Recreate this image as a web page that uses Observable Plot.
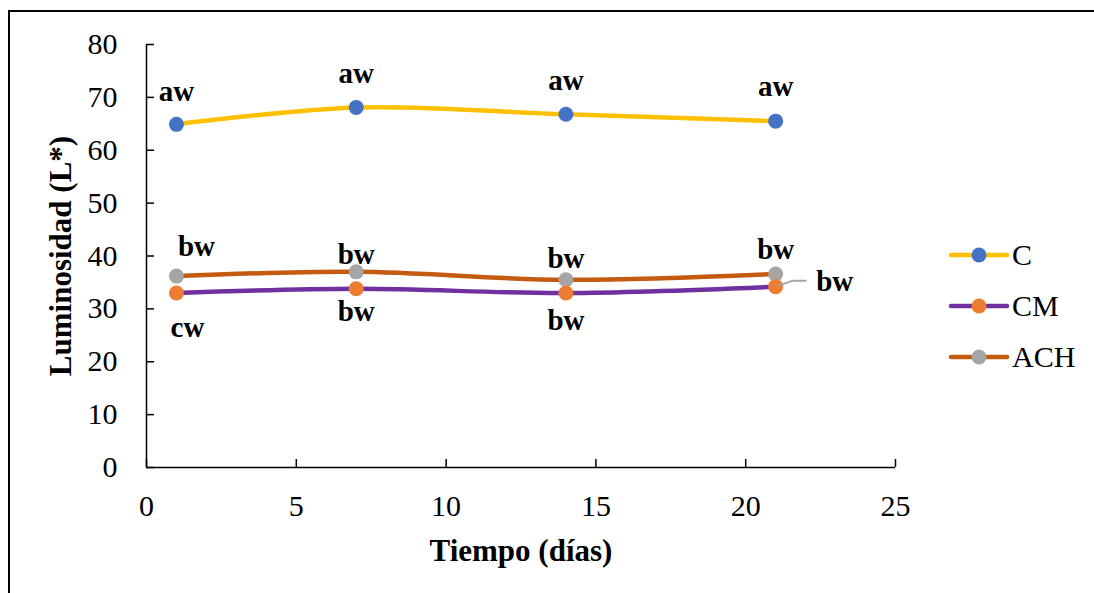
<!DOCTYPE html>
<html><head><meta charset="utf-8">
<script src="https://cdn.jsdelivr.net/npm/d3@7"></script>
<script src="https://cdn.jsdelivr.net/npm/@observablehq/plot@0.6"></script>
<style>
body{margin:0;background:#fff;}
#wrap{position:relative;width:1094px;height:593px;overflow:hidden;font-family:'Liberation Serif','Times New Roman',serif;background:#fff;}
#wrap svg, #wrap svg text{font-family:'Liberation Serif','Times New Roman',serif !important;}
#border{position:absolute;left:8px;top:10px;width:1200px;height:700px;border-top:2px solid #000;border-left:2px solid #000;}
#chart{position:absolute;left:0;top:0;}
#legend{position:absolute;left:940px;top:225px;}
</style></head><body>
<div id="wrap"><div id="border"></div><div id="chart"></div><div id="legend"></div></div>
<script>
// ---- data ----
const days = [1, 7, 14, 21];
const seriesNames = ["C", "CM", "ACH"];
const valuesC = [64.9, 68.1, 66.8, 65.5];
const valuesCM = [33.0, 33.8, 33.0, 34.2];
const valuesACH = [36.2, 37.0, 35.5, 36.6];
const labelsC = ["aw", "aw", "aw", "aw"];
const labelsCM = ["cw", "bw", "bw", "bw"];
const labelsACH = ["bw", "bw", "bw", "bw"];
const xTicks = [0, 5, 10, 15, 20, 25];
const yTicks = [0, 10, 20, 30, 40, 50, 60, 70, 80];
const xTitle = "Tiempo (días)";
const yTitle = "Luminosidad (L*)";

// ---- styles / layout ----
const lineColor = {C: "#FFC000", CM: "#7030A0", ACH: "#C55A11"};
const markerColor = {C: "#4472C4", CM: "#ED7D31", ACH: "#A5A5A5"};
const nudge = {
  C: [[0, -33], [0, -34], [0, -34], [0, -34]],
  ACH: [[20, -29], [0, -17], [0, -21], [0, -24]],
  CM: [[11, 35], [0, 23], [0, 28], [59, -5]]
};
const font = "'Liberation Serif', 'Times New Roman', serif";

const valuesBy = {C: valuesC, CM: valuesCM, ACH: valuesACH};
const labelsBy = {C: labelsC, CM: labelsCM, ACH: labelsACH};
const rows = seriesNames.flatMap(s => days.map((d, i) => ({series: s, day: d, value: valuesBy[s][i], label: labelsBy[s][i], i})));

const lineMarks = seriesNames.map(s => Plot.line(rows.filter(r => r.series === s), {
  x: "day", y: "value", stroke: lineColor[s], strokeWidth: 4.5, curve: "catmull-rom"
}));
const dotOrder = ["C", "ACH", "CM"];
const dotMarks = dotOrder.map(s => Plot.dot(rows.filter(r => r.series === s), {
  x: "day", y: "value", r: 7.5, fill: markerColor[s], stroke: "none"
}));
const labelMarks = rows.map(r => Plot.text([r], {
  x: "day", y: "value", text: "label", dx: nudge[r.series][r.i][0], dy: nudge[r.series][r.i][1],
  fontSize: 29, fontWeight: "bold", fill: "#000"
}));
// leader line for the last CM label
const leaderShape = {draw(ctx) { ctx.moveTo(3, -1); ctx.lineTo(17, -6); ctx.lineTo(30, -6); }};
const leader = Plot.vector(rows.filter(r => r.series === "CM" && r.i === 3), {
  x: "day", y: "value", length: 30, rotate: 0, anchor: "start", shape: leaderShape,
  stroke: "#A5A5A5", strokeWidth: 2, fill: "none"
});

const chart = Plot.plot({
  width: 1094, height: 593,
  marginLeft: 146, marginRight: 199, marginTop: 44, marginBottom: 126,
  x: {domain: [0, 25]},
  y: {domain: [0, 80]},
  style: {fontFamily: font, fontSize: "30px", color: "#000", background: "transparent", overflow: "visible"},
  marks: [
    Plot.axisX({ticks: xTicks, tickSize: -8, tickFormat: () => "", label: null, strokeWidth: 1.5}),
    Plot.axisY({ticks: yTicks, tickSize: -8, tickFormat: () => "", label: null, strokeWidth: 1.5}),
    Plot.axisX({ticks: xTicks, tickSize: 0, tickPadding: 27, label: null, fontSize: 30, fill: "#000"}),
    Plot.axisY({ticks: yTicks, tickSize: 0, tickPadding: 29, label: null, fontSize: 30, fill: "#000"}),
    Plot.ruleX([0], {stroke: "#000", strokeWidth: 1.5}),
    Plot.ruleY([0], {stroke: "#000", strokeWidth: 1.5}),
    ...lineMarks,
    ...dotMarks,
    leader,
    ...labelMarks,
    Plot.text([xTitle], {frameAnchor: "bottom", dy: 84, text: d => d, fontSize: 31, fontWeight: "bold", lineAnchor: "middle", textAnchor: "middle"}),
    Plot.text([yTitle], {frameAnchor: "left", dx: -85, rotate: -90, text: d => d, fontSize: 31, fontWeight: "bold", lineAnchor: "middle", textAnchor: "middle"})
  ]
});
document.getElementById("chart").appendChild(chart);

// ---- legend ----
const legendSvg = d3.select("#legend").append("svg").attr("width", 154).attr("height", 160);
seriesNames.forEach((s, k) => {
  const g = legendSvg.append("g").attr("transform", `translate(0,${30 + k * 51})`);
  g.append("line").attr("x1", 11).attr("x2", 67).attr("y1", 0).attr("y2", 0)
    .attr("stroke", lineColor[s]).attr("stroke-width", 4.5).attr("stroke-linecap", "round");
  g.append("circle").attr("cx", 39).attr("cy", 0).attr("r", 7.5).attr("fill", markerColor[s]);
  g.append("text").attr("x", 72).attr("y", 0).attr("dy", "0.34em").text(s)
    .attr("font-size", 30).attr("fill", "#000");
});
</script>
</body></html>
